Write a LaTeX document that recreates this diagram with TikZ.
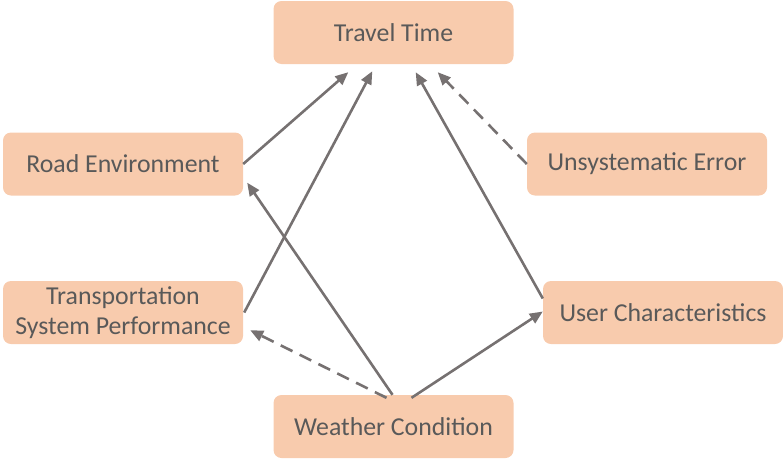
\documentclass[tikz,border=0pt]{standalone}
\usepackage{fontspec}
\setmainfont{Carlito}
\usepackage{tikz}
\usetikzlibrary{arrows.meta}
\definecolor{boxfill}{HTML}{F8CBAD}
\definecolor{linegray}{HTML}{767171}
\definecolor{textgray}{HTML}{595959}

\begin{document}
\begin{tikzpicture}[x=1pt,y=-1pt,
  factor/.style={fill=boxfill,rounded corners=8pt,minimum width=240pt,minimum height=63pt,
    text=textgray,align=center,font=\fontsize{25.8}{30}\selectfont,inner sep=2pt},
  link/.style={draw=linegray,line width=2.6pt,-{Triangle[length=13pt,width=11pt]}},
  weak/.style={link,dash pattern=on 13pt off 8pt}]

\useasboundingbox (0,0) rectangle (783,458);

\node [factor] (time) at (393.5,32.5) {Travel Time};
\node [factor] (road) at (123,164) {Road Environment};
\node [factor] (error) at (647,164) {Unsystematic Error};
\node [factor] (system) at (123,312.5) {Transportation\\System Performance};
\node [factor] (user) at (663,312.5) {User Characteristics};
\node [factor] (weather) at (393.5,426.5) {Weather Condition};

\draw [link] (road.east) -- ([xshift=75pt,yshift=-8pt]time.south west);
\draw [link] ([xshift=1pt]system.east) -- ([xshift=99pt,yshift=-7pt]time.south west);
\draw [link] ([yshift=14pt]user.west) -- ([xshift=-98pt,yshift=-8pt]time.south east);
\draw [weak] (error.west) -- ([xshift=-76pt,yshift=-8pt]time.south east);

\draw [link] ([xshift=-1pt]weather.north) -- ([xshift=4pt,yshift=13pt]road.south east);
\draw [weak] ([xshift=-7pt,yshift=-3pt]weather.north) -- ([xshift=7pt,yshift=14pt]system.south east);
\draw [link] ([xshift=18pt,yshift=-3pt]weather.north) -- ([yshift=1pt]user.west);

\end{tikzpicture}
\end{document}
